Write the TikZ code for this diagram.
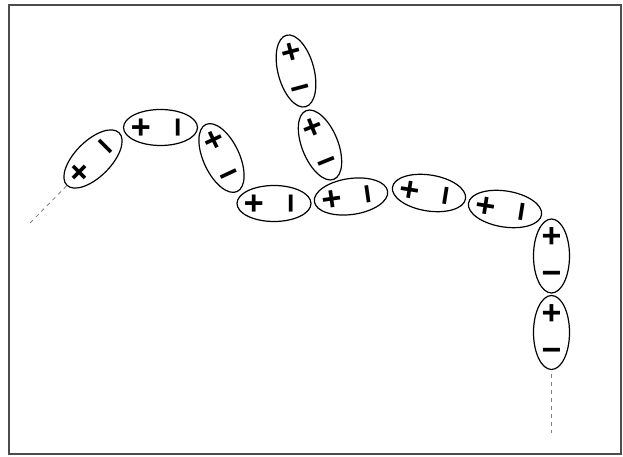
\documentclass[tikz,border=0pt]{standalone}
\usepackage{fontspec}
\newfontfamily\chargefont{Liberation Sans}
\usetikzlibrary{shapes.geometric}
\tikzset{
  dipole/.style={ellipse, draw, line width=1.2pt, minimum width=36pt, minimum height=74pt, inner sep=0pt},
  charge/.style={inner sep=0pt, font=\chargefont\bfseries\fontsize{34}{34}\selectfont},
  tail/.style={draw=gray, line width=0.8pt, dash pattern=on 4pt off 4pt}
}
\begin{document}
\begin{tikzpicture}[x=1pt,y=1pt]
  \useasboundingbox (0,0) rectangle (623,457);
  \draw[black!70, line width=1.5pt] (9,3) rectangle (621,452);
  \foreach \n/\x/\y/\a in {1/93/298/135, 2/160.5/329.5/90, 3/221.5/299/25, 4/274/253.5/90, 5/296/386/15, 6/320/312/22, 7/351/260.5/98, 8/429/264/81, 9/505/248/81, 10/551.5/201/0, 11/551.5/124.5/0}{
    \node[dipole, rotate=\a] (d\n) at (\x,\y) {};
    \path (d\n.center) ++(90+\a:18) node[charge, rotate=\a] (p\n) {+};
    \path (d\n.center) ++(\a-90:22) node[charge, rotate=\a] (m\n) {−};
  }
  \coordinate (lend) at (30,234);
  \coordinate (rend) at (551.5,24);
  \draw[tail] (d1) -- (lend);
  \draw[tail, shorten <=4pt] (d11) -- (rend);
\end{tikzpicture}
\end{document}
